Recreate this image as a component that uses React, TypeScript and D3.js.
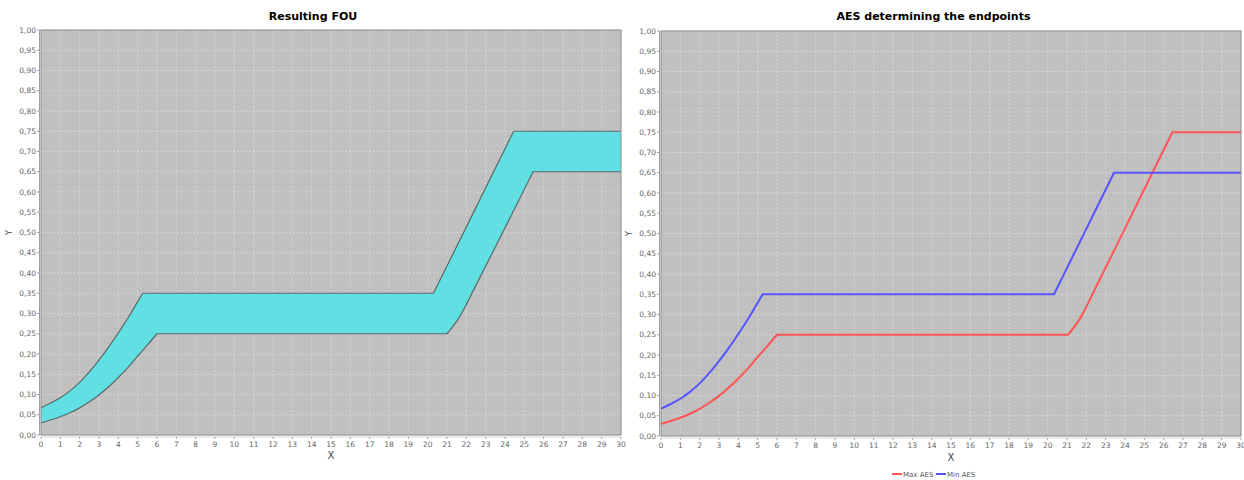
import React from "react";
import * as d3 from "d3";

// ---------- data ----------
const fouUpperX = [0, 0.5, 1, 1.5, 2, 2.5, 3, 3.5, 4, 4.5, 5, 5.26, 20.3, 22.2, 24.45, 30];
const fouUpperY = [0.067, 0.079, 0.092, 0.109, 0.13, 0.156, 0.185, 0.217, 0.252, 0.289, 0.329, 0.35, 0.35, 0.533, 0.75, 0.75];
const fouLowerX = [0, 0.5, 1, 1.5, 2, 2.5, 3, 3.5, 4, 4.5, 5, 5.5, 6, 21, 21.6, 22.5, 23.5, 24.5, 25.45, 30];
const fouLowerY = [0.03, 0.037, 0.045, 0.055, 0.067, 0.082, 0.099, 0.119, 0.142, 0.167, 0.195, 0.222, 0.25, 0.25, 0.288, 0.37, 0.464, 0.559, 0.65, 0.65];

const maxAesX = [0, 0.5, 1, 1.5, 2, 2.5, 3, 3.5, 4, 4.5, 5, 5.5, 6, 21.05, 21.65, 22.5, 23.5, 24.5, 25.5, 26.45, 30];
const maxAesY = [0.03, 0.037, 0.045, 0.055, 0.067, 0.082, 0.099, 0.119, 0.142, 0.167, 0.195, 0.222, 0.25, 0.25, 0.288, 0.368, 0.464, 0.561, 0.658, 0.75, 0.75];
const minAesX = [0, 0.5, 1, 1.5, 2, 2.5, 3, 3.5, 4, 4.5, 5, 5.26, 20.33, 21.9, 23.43, 30];
const minAesY = [0.067, 0.079, 0.092, 0.109, 0.13, 0.156, 0.185, 0.217, 0.252, 0.289, 0.329, 0.35, 0.35, 0.502, 0.65, 0.65];

const xTicks = d3.range(0, 31, 1);
const yTicks = d3.range(0, 21, 1).map((i) => i * 0.05);
const fmtY = (v: number) => v.toFixed(2).replace(".", ",");

const titleLeft = "Resulting FOU";
const titleRight = "AES determining the endpoints";
const legendLabels = ["Max AES", "Min AES"];
const legendColors = ["#ff5555", "#5555ff"];

type Pt = [number, number];
const zip = (xs: number[], ys: number[]): Pt[] => xs.map((x, i) => [x, ys[i]]);

const FONT = "'DejaVu Sans', Tahoma, sans-serif";

// Split the series at kinks (where a flat stretch begins or ends); each smooth
// piece is drawn with a monotone curve so the corners stay sharp.
function smoothPath(pts: Pt[], x: (v: number) => number, y: (v: number) => number): string {
  const segs: Pt[][] = [];
  let cur: Pt[] = [pts[0]];
  for (let i = 1; i < pts.length; i++) {
    cur.push(pts[i]);
    if (i < pts.length - 1) {
      const flatPrev = pts[i][1] === pts[i - 1][1];
      const flatNext = pts[i + 1][1] === pts[i][1];
      if (flatPrev !== flatNext) {
        segs.push(cur);
        cur = [pts[i]];
      }
    }
  }
  segs.push(cur);
  const gen = d3.line<Pt>().x((d) => x(d[0])).y((d) => y(d[1])).curve(d3.curveMonotoneX);
  return segs
    .map((s, k) => {
      const p = gen(s) || "";
      return k === 0 ? p : "L" + p.slice(1);
    })
    .join("");
}

function Panel(props: {
  left: number; right: number; top: number; bottom: number;
  title: string; titleX: number; xLabelY: number; children: (x: d3.ScaleLinear<number, number>, y: d3.ScaleLinear<number, number>) => React.ReactNode;
}) {
  const { left, right, top, bottom } = props;
  const x = d3.scaleLinear().domain([0, 30]).range([left, right]);
  const y = d3.scaleLinear().domain([0, 1]).range([bottom, top]);
  return (
    <g>
      <text x={props.titleX} y={20} textAnchor="middle" fontFamily={FONT} fontWeight="bold" fontSize={11} fill="#000">
        {props.title}
      </text>
      <rect x={left} y={top} width={right - left} height={bottom - top} fill="#c0c0c0" />
      {xTicks.map((t) => (
        <line key={"gx" + t} x1={x(t)} x2={x(t)} y1={top} y2={bottom} stroke="#dadada" strokeWidth={0.8} strokeDasharray="2,2" />
      ))}
      {yTicks.map((t) => (
        <line key={"gy" + t} x1={left} x2={right} y1={y(t)} y2={y(t)} stroke="#dadada" strokeWidth={0.8} strokeDasharray="2,2" />
      ))}
      {props.children(x, y)}
      <rect x={left} y={top} width={right - left} height={bottom - top} fill="none" stroke="#8a8a8a" strokeWidth={1} />
      {/* y axis */}
      <line x1={left - 1.5} x2={left - 1.5} y1={top} y2={bottom} stroke="#a0a0a0" strokeWidth={1} />
      {yTicks.map((t) => (
        <g key={"ty" + t}>
          <line x1={left - 4} x2={left - 1.5} y1={y(t)} y2={y(t)} stroke="#a0a0a0" />
          <text x={left - 5} y={y(t) + 2.7} textAnchor="end" fontFamily={FONT} fontSize={7.5} fill="#666">
            {fmtY(t)}
          </text>
        </g>
      ))}
      {/* x axis */}
      <line x1={left} x2={right} y1={bottom + 2} y2={bottom + 2} stroke="#d8d8d8" strokeWidth={1} />
      {xTicks.map((t) => (
        <g key={"tx" + t}>
          <line x1={x(t)} x2={x(t)} y1={bottom + 2} y2={bottom + 4} stroke="#a0a0a0" />
          <text x={x(t)} y={bottom + 12} textAnchor="middle" fontFamily={FONT} fontSize={7.5} fill="#666">
            {t}
          </text>
        </g>
      ))}
      <text x={(left + right) / 2} y={props.xLabelY} textAnchor="middle" fontFamily={FONT} fontSize={10} fill="#444">
        X
      </text>
      <text
        transform={`translate(${left - 29},${(top + bottom) / 2}) rotate(-90)`}
        textAnchor="middle" fontFamily={FONT} fontSize={8} fill="#444"
      >
        Y
      </text>
    </g>
  );
}

export default function App() {
  const upper = zip(fouUpperX, fouUpperY);
  const lower = zip(fouLowerX, fouLowerY);
  const maxAes = zip(maxAesX, maxAesY);
  const minAes = zip(minAesX, minAesY);

  return (
    <svg width={1244} height={480} style={{ position: "absolute", left: 0, top: 0, background: "#fff" }}>
      <Panel left={41} right={621} top={30} bottom={435} title={titleLeft} titleX={313} xLabelY={459}>
        {(x, y) => {
          const up = smoothPath(upper, x, y);
          const lowRev = smoothPath(lower.slice().reverse(), x, y);
          const fill = up + "L" + lowRev.slice(1) + "Z";
          return (
            <g>
              <path d={fill} fill="#60e0e2" stroke="none" />
              <path d={up} fill="none" stroke="#5a6a6a" strokeWidth={1.2} />
              <path d={smoothPath(lower, x, y)} fill="none" stroke="#5a6a6a" strokeWidth={1.2} />
            </g>
          );
        }}
      </Panel>
      <Panel left={661} right={1241} top={31} bottom={436} title={titleRight} titleX={933.5} xLabelY={461}>
        {(x, y) => (
          <g>
            <path d={smoothPath(maxAes, x, y)} fill="none" stroke={legendColors[0]} strokeWidth={2} />
            <path d={smoothPath(minAes, x, y)} fill="none" stroke={legendColors[1]} strokeWidth={2} />
          </g>
        )}
      </Panel>
      {legendLabels.map((lab, i) => {
        const lx = 892 + i * 44;
        return (
          <g key={lab}>
            <line x1={lx} x2={lx + 10} y1={474} y2={474} stroke={legendColors[i]} strokeWidth={2} />
            <text x={lx + 11} y={476.5} fontFamily={FONT} fontSize={7} fill="#555">
              {lab}
            </text>
          </g>
        );
      })}
    </svg>
  );
}
